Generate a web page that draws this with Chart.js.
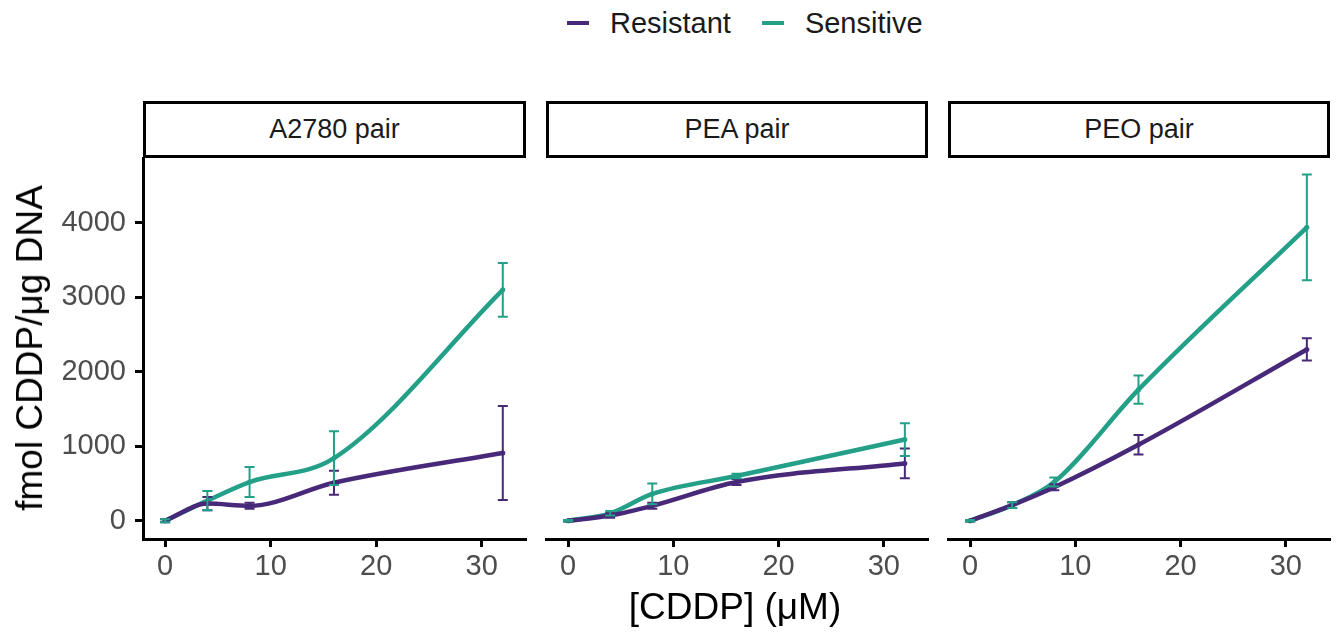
<!DOCTYPE html>
<html>
<head>
<meta charset="utf-8">
<script src="https://cdn.jsdelivr.net/npm/chart.js@4.4.1/dist/chart.umd.min.js"></script>
<style>
    body { margin: 0; width: 1336px; height: 632px; background: #fff; position: relative; overflow: hidden;
           font-family: 'Liberation Sans', Arial, sans-serif; }
    .panel { position: absolute; top: 150px; height: 440px; }
    .strip { position: absolute; top: 101px; height: 57px; box-sizing: border-box; border: 3px solid #000;
             display: flex; align-items: center; justify-content: center; font-size: 27px; color: #1a1a1a; }
    #legend { position: absolute; left: 567px; top: 5px; height: 36px; display: flex; align-items: center;
              font-size: 29px; color: #1a1a1a; }
    .key { display: inline-block; width: 22px; height: 4px; margin-right: 21px; }
    #ytitle { position: absolute; left: 30px; top: 348px; transform: translate(-50%, -50%) rotate(-90deg);
              white-space: nowrap; font-size: 37px; color: #000; }
    #xtitle { position: absolute; left: 735px; top: 607px; transform: translate(-50%, -50%);
              white-space: nowrap; font-size: 37px; color: #000; }
</style>
</head>
<body>
<div id="legend">
    <span class="key" style="background:#482878"></span><span style="margin-right:31px">Resistant</span>
    <span class="key" style="background:#23A087"></span><span>Sensitive</span>
</div>
<div class="strip" style="left:143px;width:383px">A2780 pair</div>
<div class="strip" style="left:546px;width:382px">PEA pair</div>
<div class="strip" style="left:948px;width:382px">PEO pair</div>
<div class="panel" style="left:0;width:530px"><canvas id="p0"></canvas></div>
<div class="panel" style="left:540px;width:392px"><canvas id="p1"></canvas></div>
<div class="panel" style="left:942px;width:394px"><canvas id="p2"></canvas></div>
<div id="ytitle">fmol CDDP/μg DNA</div>
<div id="xtitle">[CDDP] (μM)</div>

<script>
const DOSES   = [0, 4, 8, 16, 32];
const X_TICKS = [0, 10, 20, 30];
const Y_TICKS = [0, 1000, 2000, 3000, 4000];
const PANELS  = ['A2780 pair', 'PEA pair', 'PEO pair'];

// mean fmol CDDP/ug DNA and error half-width, per panel
const a2780Res    = [0, 230, 200, 510, 910];
const a2780ResErr = [20, 90, 40, 160, 630];
const a2780Sen    = [0, 270, 520, 840, 3100];
const a2780SenErr = [20, 130, 200, 360, 360];

const peaRes    = [0, 70, 200, 520, 770];
const peaResErr = [10, 30, 40, 40, 200];
const peaSen    = [0, 100, 360, 600, 1090];
const peaSenErr = [10, 30, 140, 30, 220];

const peoRes    = [0, 210, 450, 1020, 2300];
const peoResErr = [10, 40, 40, 130, 150];
const peoSen    = [0, 210, 520, 1760, 3940];
const peoSenErr = [10, 40, 60, 190, 710];

const COLORS = { Resistant: '#482878', Sensitive: '#23A087' };

Chart.defaults.font.family = "'Liberation Sans', Arial, sans-serif";

const errorBars = {
    id: 'errorBars',
    afterDatasetsDraw(chart) {
        const { ctx, scales: { x, y } } = chart;
        chart.data.datasets.forEach(ds => {
            ctx.save();
            ctx.strokeStyle = ds.borderColor;
            ctx.lineWidth = 2;
            ds.data.forEach((p, j) => {
                const e = ds.errors[j];
                if (!e) return;
                const px = x.getPixelForValue(p.x);
                const top = y.getPixelForValue(p.y + e);
                const bot = y.getPixelForValue(p.y - e);
                ctx.beginPath();
                ctx.moveTo(px, top); ctx.lineTo(px, bot);
                ctx.moveTo(px - 5, top); ctx.lineTo(px + 5, top);
                ctx.moveTo(px - 5, bot); ctx.lineTo(px + 5, bot);
                ctx.stroke();
            });
            ctx.restore();
        });
    },
};

function series(label, vals, errs) {
    return {
        label,
        data: DOSES.map((d, i) => ({ x: d, y: vals[i] })),
        errors: errs,
        borderColor: COLORS[label],
        backgroundColor: COLORS[label],
        borderWidth: 4.5,
        cubicInterpolationMode: 'monotone',
        pointRadius: 2.5,
        pointBorderWidth: 0,
    };
}

function axisStyle() {
    return {
        grid: { drawOnChartArea: false, drawTicks: true, tickLength: 8, tickWidth: 3, tickColor: '#000' },
        border: { display: true, color: '#000', width: 3 },
    };
}

function noPad(s) {
    s.paddingTop = 0; s.paddingBottom = 0; s.paddingLeft = 0; s.paddingRight = 0;
}

function makePanel(id, idx, datasets, padding) {
    return new Chart(document.getElementById(id), {
        type: 'line',
        data: { datasets },
        options: {
            responsive: true,
            maintainAspectRatio: false,
            animation: false,
            layout: { padding },
            plugins: { legend: { display: false }, tooltip: { enabled: false } },
            scales: {
                x: {
                    type: 'linear', min: -2.1, max: 34.2,
                    afterBuildTicks: s => { s.ticks = X_TICKS.map(v => ({ value: v })); },
                    afterFit: s => { s.height = 51; noPad(s); },
                    ...axisStyle(),
                    ticks: { color: '#4d4d4d', font: { size: 29 }, padding: 3, maxRotation: 0,
                             callback: v => String(v) },
                },
                y: {
                    display: idx === 0,
                    min: -245, max: 4870,
                    afterBuildTicks: s => { s.ticks = Y_TICKS.map(v => ({ value: v })); },
                    afterFit: s => { if (idx === 0) s.width = 143; noPad(s); },
                    ...axisStyle(),
                    ticks: { color: '#4d4d4d', font: { size: 29 }, padding: 9, callback: v => String(v) },
                },
            },
        },
        plugins: [errorBars],
    });
}

makePanel('p0', 0, [series('Resistant', a2780Res, a2780ResErr), series('Sensitive', a2780Sen, a2780SenErr)],
          { left: 0, right: 4, top: 8, bottom: 0 });
makePanel('p1', 1, [series('Resistant', peaRes, peaResErr), series('Sensitive', peaSen, peaSenErr)],
          { left: 6, right: 4, top: 8, bottom: 0 });
makePanel('p2', 2, [series('Resistant', peoRes, peoResErr), series('Sensitive', peoSen, peoSenErr)],
          { left: 6, right: 6, top: 8, bottom: 0 });
</script>
</body>
</html>
